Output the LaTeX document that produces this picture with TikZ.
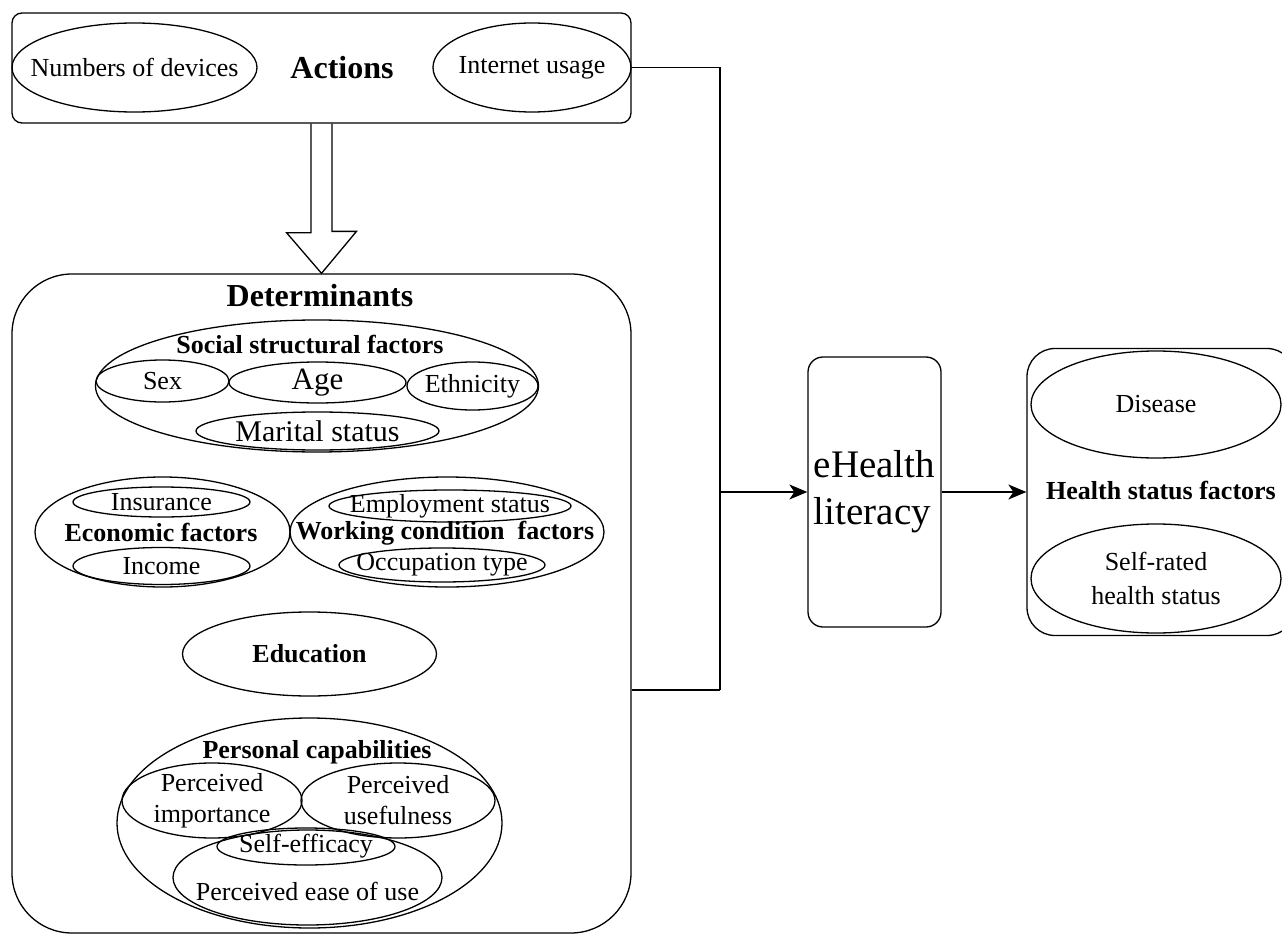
\documentclass[tikz,border=0pt]{standalone}
\usepackage{fontspec}
\setmainfont{Liberation Serif}
\usetikzlibrary{shapes.geometric,arrows.meta}
\tikzset{
	oval/.style={draw, ellipse, inner sep=0pt, line width=1.3pt},
	roundbox/.style={draw, rectangle, inner sep=0pt, line width=1.3pt},
	txt/.style={font=\fontsize{26}{31}\selectfont, align=center, inner sep=0pt},
	headtext/.style={font=\fontsize{26}{31}\selectfont\bfseries, inner sep=0pt},
	link/.style={line width=1.3pt},
	arr/.style={line width=1.3pt, -{Stealth[length=18pt, width=15pt, inset=5pt]}},
}

\begin{document}
\begin{tikzpicture}[x=1pt, y=-1pt]
		%%%%% START %%%%%
		\useasboundingbox (0, 0) rectangle (1282, 936);
		
		\node[roundbox, rounded corners=10, minimum width=619, minimum height=110] (actions) at (321.5, 68) {};
		\node[oval, minimum width=245, minimum height=89, label={[txt]center:Numbers of devices}] (devices) at (134.5, 67.5) {};
		\node[headtext, font=\fontsize{32}{36}\selectfont\bfseries] (actionstitle) at (342, 68) {Actions};
		\node[oval, minimum width=198, minimum height=89, label={[txt]center:Internet usage}] (internet) at (532, 67.5) {};
		
		\node[roundbox, rounded corners=60, minimum width=619, minimum height=659] (determinants) at (321.5, 603.5) {};
		\node[headtext, font=\fontsize{32}{36}\selectfont\bfseries] (dettitle) at (320, 296) {Determinants};
		
		\draw[link, line join=miter] ([xshift=-10.5]actions.south) -- ++(0, 109) -- ++(-24.5, 0) -- (determinants.north) -- ++(35, -42) -- ++(-24.5, 0) -- ([xshift=10.5]actions.south);
		
		\node[oval, minimum width=443, minimum height=132] (social) at (317, 386) {};
		\node[headtext] (socialtitle) at (310, 345) {Social structural factors};
		\node[oval, minimum width=133, minimum height=42, label={[txt]center:Sex}] (sex) at (162.5, 381) {};
		\node[oval, minimum width=177, minimum height=41, label={[txt, font=\fontsize{31}{36}\selectfont]center:Age}] (age) at (317.5, 382.5) {};
		\node[oval, minimum width=131, minimum height=48, label={[txt]center:Ethnicity}] (ethnicity) at (472.5, 386) {};
		\node[oval, minimum width=243, minimum height=38, label={[txt, font=\fontsize{30}{35}\selectfont]center:Marital status}] (marital) at (317.5, 431) {};
		
		\node[oval, minimum width=255, minimum height=110] (economic) at (162.5, 532) {};
		\node[oval, minimum width=177, minimum height=30, label={[txt]center:Insurance}] (insurance) at (161.5, 502) {};
		\node[headtext] (economictitle) at (161, 532) {Economic factors};
		\node[oval, minimum width=177, minimum height=37, label={[txt]center:Income}] (income) at (161.5, 566) {};
		
		\node[oval, minimum width=314, minimum height=110] (working) at (447, 532) {};
		\node[oval, minimum width=242, minimum height=32, label={[txt]center:Employment status}] (employment) at (450, 506) {};
		\node[headtext] (workingtitle) at (445, 533) {Working condition\ \ factors};
		\node[oval, minimum width=206, minimum height=34, label={[txt]center:Occupation type}] (occupation) at (442, 565) {};
		
		\node[oval, minimum width=254, minimum height=84, label={[txt, font=\fontsize{26}{31}\selectfont\bfseries]center:Education}] (education) at (309.5, 654) {};
		
		\node[oval, minimum width=385, minimum height=210] (personal) at (309.5, 823) {};
		\node[headtext] (personaltitle) at (317, 752) {Personal capabilities};
		\node[oval, minimum width=180, minimum height=75, label={[txt]center:Perceived\\importance}] (importance) at (212, 800.5) {};
		\node[oval, minimum width=194, minimum height=75, label={[txt]center:Perceived\\usefulness}] (usefulness) at (398, 800.5) {};
		\node[oval, minimum width=178, minimum height=37, label={[txt]center:Self-efficacy}] (efficacy) at (306, 846.5) {};
		\node[oval, minimum width=269, minimum height=95, label={[txt, yshift=-14]center:Perceived ease of use}] (ease) at (307.5, 877.5) {};
		
		\node[roundbox, rounded corners=15, minimum width=133, minimum height=270, align=left, font=\fontsize{39}{47}\selectfont] (ehealth) at (874.5, 492) {eHealth\\literacy};
		
		\node[roundbox, rounded corners=28, minimum width=268, minimum height=287] (health) at (1161, 492) {};
		\node[oval, minimum width=250, minimum height=107, label={[txt]center:Disease}] (disease) at (1156, 404.5) {};
		\node[headtext] (healthtitle) at (1161, 491) {Health status factors};
		\node[oval, minimum width=250, minimum height=109, label={[txt, font=\fontsize{26}{34}\selectfont]center:Self-rated\\health status}] (selfrated) at (1156, 578.5) {};
		
		\coordinate (join) at (720, 690);
		\draw[link] (internet.east) -| (join);
		\draw[link] (determinants.east |- join) -- (join);
		\draw[arr] (join |- ehealth.west) -- (ehealth.west);
		\draw[arr] (ehealth.east) -- (health.west);
		
		%%%%% END %%%%%
\end{tikzpicture}
\end{document}
